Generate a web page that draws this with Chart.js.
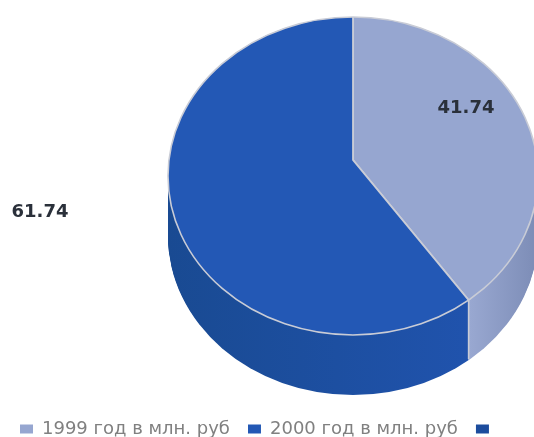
<!DOCTYPE html>
<html><head><meta charset="utf-8">
<style>html,body{margin:0;padding:0;background:#fff;overflow:hidden}
#w{width:534px;height:437px;position:relative}canvas{filter:blur(0.7px)}</style>
<script src="https://cdn.jsdelivr.net/npm/chart.js@4"></script></head>
<body><div id="w"><canvas id="c" width="534" height="437"></canvas></div>
<script>
const categories = ["1999 год в млн. руб", "2000 год в млн. руб", " "];
const values = [41.74, 61.74, 0];
const valueLabels = ["41.74", "61.74"];
const sliceColors = ["#96a6d0", "#2358b5", "#1c4c9d"];

const disc = {cx:353, cy:176, rx:185, ry:159, apexY:160, depth:60, spread:1.2, squash:0.842};
const labelSpots = [[466,108],[40,212]];
const edge = "#c9ccd6";

const pie3d = {
  id:'pie3d',
  afterLayout(chart){
    chart.legend.top += 11; chart.legend.bottom += 11;
    chart.legend.left += 2; chart.legend.right += 2;
  },
  beforeDatasetsDraw(chart){
    const ctx = chart.ctx, arcs = chart.getDatasetMeta(0).data;
    const R = arcs[0].outerRadius, ox = arcs[0].x, oy = arcs[0].y;
    const sx = disc.spread*disc.rx/R, sy = sx*disc.squash;
    const elX = X => ox + (X-disc.cx)/sx;
    const sideBlue = ctx.createLinearGradient(elX(168),0,elX(470),0);
    sideBlue.addColorStop(0,"#194a92"); sideBlue.addColorStop(1,"#2053ad");
    const sideLight = ctx.createLinearGradient(elX(467),0,elX(538),0);
    sideLight.addColorStop(0,"#9aa9d2"); sideLight.addColorStop(1,"#7c8cb6");
    const sides = [sideLight, sideBlue, sliceColors[2]];
    const paint = (d, top) => {
      ctx.save();
      ctx.beginPath();
      ctx.ellipse(disc.cx, disc.cy+d, disc.rx, disc.ry, 0, 0, Math.PI*2);
      ctx.clip();
      ctx.translate(disc.cx, disc.apexY+d); ctx.scale(sx, sy); ctx.translate(-ox, -oy);
      arcs.forEach((a,i) => {
        if (!values[i]) return;
        const saved = a.options;
        a.options = Object.assign(Object.create(saved), top
          ? {borderWidth:1.8/sx, borderColor:edge, backgroundColor:sliceColors[i]}
          : {borderWidth:0, backgroundColor:sides[i]});
        a.draw(ctx);
        a.options = saved;
      });
      ctx.restore();
    };
    for (let d = disc.depth; d >= 1; d--) paint(d, false);
    const ang = arcs[0].endAngle, dx = Math.cos(ang)*sx, dy = Math.sin(ang)*sy;
    const ay = disc.apexY-disc.cy;
    const A = dx*dx/(disc.rx*disc.rx)+dy*dy/(disc.ry*disc.ry);
    const B = 2*(ay*dy/(disc.ry*disc.ry));
    const C = ay*ay/(disc.ry*disc.ry)-1;
    const t = (-B+Math.sqrt(B*B-4*A*C))/(2*A);
    const rimX = disc.cx+t*dx, rimY = disc.apexY+t*dy;
    ctx.save();
    ctx.strokeStyle = edge; ctx.lineWidth = 1.6;
    ctx.beginPath(); ctx.moveTo(rimX,rimY); ctx.lineTo(rimX,rimY+disc.depth-1); ctx.stroke();
    ctx.restore();
    paint(0, true);
    ctx.save();
    ctx.strokeStyle = edge; ctx.lineWidth = 1.6;
    ctx.beginPath(); ctx.ellipse(disc.cx, disc.cy, disc.rx, disc.ry, 0, 0, Math.PI*2); ctx.stroke();
    ctx.restore();
    return false;
  },
  afterDraw(chart){
    const ctx = chart.ctx;
    ctx.save();
    ctx.font = "bold 18px 'DejaVu Sans'"; ctx.fillStyle = "#2a303a";
    ctx.textAlign = "center"; ctx.textBaseline = "middle";
    valueLabels.forEach((t,i) => ctx.fillText(t, labelSpots[i][0], labelSpots[i][1]));
    ctx.restore();
  }
};

new Chart(document.getElementById('c'), {
  type:'pie',
  data:{labels:categories, datasets:[{data:values, backgroundColor:sliceColors, borderWidth:0}]},
  plugins:[pie3d],
  options:{
    responsive:false, animation:false, rotation:0,
    plugins:{
      tooltip:{enabled:false},
      legend:{position:'bottom', align:'start',
        labels:{boxWidth:13, boxHeight:9, padding:18, color:"#808080", font:{family:"'DejaVu Sans'", size:18}}}
    }
  }
});
</script></body></html>
